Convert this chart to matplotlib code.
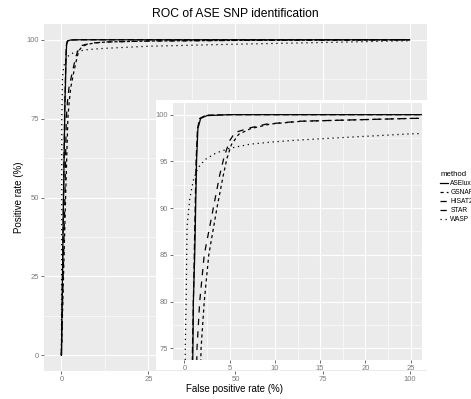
import numpy as np
import matplotlib
matplotlib.use("Agg")
import matplotlib.pyplot as plt

plt.rcParams['font.family'] = ['Liberation Sans', 'DejaVu Sans']

methods = ["ASElux", "GSNAP", "HISAT2", "STAR", "WASP"]

aselux_fpr = [0, 0.3, 0.6, 0.95, 1.0, 1.15, 1.25, 1.35, 1.5, 1.8, 2.5, 5, 100]
aselux_tpr = [0, 25, 50, 75, 80, 85, 90, 95, 98.5, 99.6, 99.9, 100, 100]

gsnap_fpr = [0, 0.6, 1.2, 1.85, 2.2, 2.7, 3.6, 4.3, 4.7, 5.2, 6.0, 7.3, 9.5, 13, 25, 50, 100]
gsnap_tpr = [0, 25, 50, 75, 80, 85, 90, 93.5, 95.3, 96.8, 97.9, 98.5, 99.0, 99.3, 99.6, 99.8, 100]

hisat2_fpr = [0, 0.3, 0.6, 0.9, 1.0, 1.1, 1.2, 1.3, 1.45, 1.7, 2.4, 5, 100]
hisat2_tpr = [0, 25, 50, 75, 80, 85, 90, 95, 98.5, 99.6, 99.95, 100, 100]

star_fpr = [0, 0.5, 1.0, 1.4, 1.7, 2.2, 3.2, 3.9, 4.4, 5.0, 5.6, 7.3, 9.1, 12.8, 25, 50, 100]
star_tpr = [0, 25, 50, 75, 80, 85, 90, 93.5, 95.5, 97.2, 98.1, 98.6, 99.0, 99.3, 99.6, 99.8, 100]

wasp_fpr = [0, 0.05, 0.1, 0.1, 0.2, 0.3, 0.6, 1.0, 1.5, 2.3, 3.5, 5, 7.3, 10, 12.8, 18.4, 25, 50, 78, 100]
wasp_tpr = [0, 25, 50, 75, 80, 88, 91, 93, 94.3, 95.2, 95.9, 96.4, 96.85, 97.1, 97.3, 97.6, 97.95, 98.6, 99.2, 99.7]

fprs = [aselux_fpr, gsnap_fpr, hisat2_fpr, star_fpr, wasp_fpr]
tprs = [aselux_tpr, gsnap_tpr, hisat2_tpr, star_tpr, wasp_tpr]
dashes = [None, (2.5, 2.5), (5, 2.5), (5, 5), (1, 3)]

W, H = 471, 399


def rect(x0, y0, x1, y1):
    return [x0 / W, 1 - y1 / H, (x1 - x0) / W, (y1 - y0) / H]


def style_panel(ax, xmaj, xmin, ymaj, ymin, size):
    ax.set_facecolor("#EBEBEB")
    for s in ax.spines.values():
        s.set_visible(False)
    ax.set_xticks(xmaj)
    ax.set_xticks(xmin, minor=True)
    ax.set_yticks(ymaj)
    ax.set_yticks(ymin, minor=True)
    ax.grid(which="major", color="white", lw=0.8)
    ax.grid(which="minor", color="white", lw=0.4)
    ax.set_axisbelow(True)
    ax.tick_params(which="major", length=2.2, width=0.5, color="#333333",
                   labelsize=size, labelcolor="#7a7a7a", pad=1.2)
    ax.tick_params(which="minor", length=0)


def draw(ax):
    lines = []
    for name, x, y, d in zip(methods, fprs, tprs, dashes):
        ln, = ax.plot(x, y, color="black", lw=0.9, label=name)
        if d is not None:
            ln.set_dashes(d)
        lines.append(ln)
    return lines


fig = plt.figure(figsize=(W / 100, H / 100), dpi=100)

ax = fig.add_axes(rect(44, 24, 427, 371))
style_panel(ax, [0, 25, 50, 75, 100], [12.5, 37.5, 62.5, 87.5],
            [0, 25, 50, 75, 100], [12.5, 37.5, 62.5, 87.5], 5.5)
handles = draw(ax)
ax.set_xlim(-5, 105)
ax.set_ylim(-5, 105)

bg = fig.add_axes(rect(156, 100, 427, 370))
bg.set_facecolor("white")
bg.set_xticks([])
bg.set_yticks([])
for s in bg.spines.values():
    s.set_visible(False)
bg.set_zorder(2)

ins = fig.add_axes(rect(173, 103, 422, 360))
ins.set_zorder(3)
style_panel(ins, [0, 5, 10, 15, 20, 25], [2.5, 7.5, 12.5, 17.5, 22.5],
            [75, 80, 85, 90, 95, 100], [77.5, 82.5, 87.5, 92.5, 97.5], 5.5)
draw(ins)
ins.set_xlim(-1.25, 26.25)
ins.set_ylim(73.75, 101.25)

fig.text(235 / W, 1 - 14 / H, "ROC of ASE SNP identification",
         ha="center", va="center", fontsize=8.7)
fig.text(235 / W, 1 - 389 / H, "False positive rate (%)",
         ha="center", va="center", fontsize=7)
fig.text(19 / W, 1 - 197 / H, "Positive rate (%)", rotation=90,
         ha="center", va="center", fontsize=7)

leg = fig.legend(handles=handles, loc="upper left",
                 bbox_to_anchor=(437 / W, 1 - 168 / H), frameon=False,
                 title="method", fontsize=4.8, title_fontsize=5.6,
                 handlelength=1.2, handletextpad=0.3, labelspacing=0.3,
                 borderpad=0, alignment="left")

fig.savefig("out.png", dpi=100)
